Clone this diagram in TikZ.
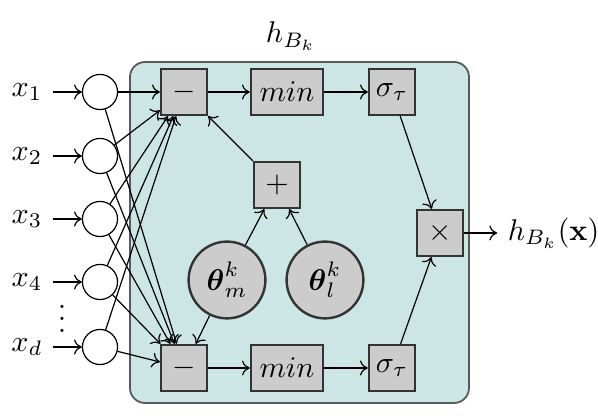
\documentclass[tikz,border=0pt]{standalone}
\usepackage{amsmath,amssymb}
\usepackage{tikz}
\usetikzlibrary{positioning,arrows.meta}

\begin{document}
\begin{tikzpicture}[x=0.3333pt,y=-0.3333pt,>={To[length=2.6pt,width=5pt]}]%
\tikzstyle{opbox} = [draw=black!80, fill=gray!40, thick,
    rectangle, minimum size=15.3pt, inner sep=2pt]
\tikzstyle{param} = [draw=black!80, fill=gray!40, thick,
    circle, minimum size=25.6pt, inner sep=0pt]
\tikzstyle{input} = [draw, circle, fill=white, minimum size=11.7pt, inner sep=0pt]
\tikzstyle{block} = [draw=black!65, fill=teal!20, semithick, rounded corners=5pt]

\useasboundingbox (0,0) rectangle (598,416);
\draw[block] (130,62) rectangle (469,403);
\node (title) at (291,36) {$h_{B_k}$};

% inputs
\foreach \n/\y in {1/92, 2/156, 3/219, 4/282, d/347}{
  \node[input] (in\n) at (100,\y) {};
  \node (x\n) at (27,\y) {$x_{\n}$};
  \draw[->] (x\n) -- (in\n);
}
\node (dots) at (62,310) {$\vdots$};

% block
\node[opbox] (sub1) at (184,92) {$-$};
\node[opbox, minimum width=24pt] (min1) at (287,92) {$min$};
\node[opbox] (sig1) at (392,92) {$\sigma_\tau$};
\node[opbox] (sub2) at (184,368) {$-$};
\node[opbox, minimum width=24pt] (min2) at (287,368) {$min$};
\node[opbox] (sig2) at (392,368) {$\sigma_\tau$};
\node[opbox] (plus) at (277,185) {$+$};
\node[opbox] (prod) at (440,233) {$\times$};
\node[param] (thm) at (227,280) {$\boldsymbol{\theta}_m^k$};
\node[param] (thl) at (325,280) {$\boldsymbol{\theta}_l^k$};
\node[right=11pt of prod] (out) {$h_{B_k}(\mathbf{x})$};

\foreach \n in {1,2,3,4,d}{
  \draw[->] (in\n) -- (sub1);
  \draw[->] (in\n) -- (sub2);
}
\draw[->] (sub1) -- (min1);
\draw[->] (min1) -- (sig1);
\draw[->] (sub2) -- (min2);
\draw[->] (min2) -- (sig2);
\draw[->] (sig1) -- (prod);
\draw[->] (sig2) -- (prod);
\draw[->] (prod) -- (out);
\draw[->] (thm) -- (plus);
\draw[->] (thl) -- (plus);
\draw[->] (thm) -- (sub2);
\draw[->] (plus) -- (sub1);
\end{tikzpicture}
\end{document}
